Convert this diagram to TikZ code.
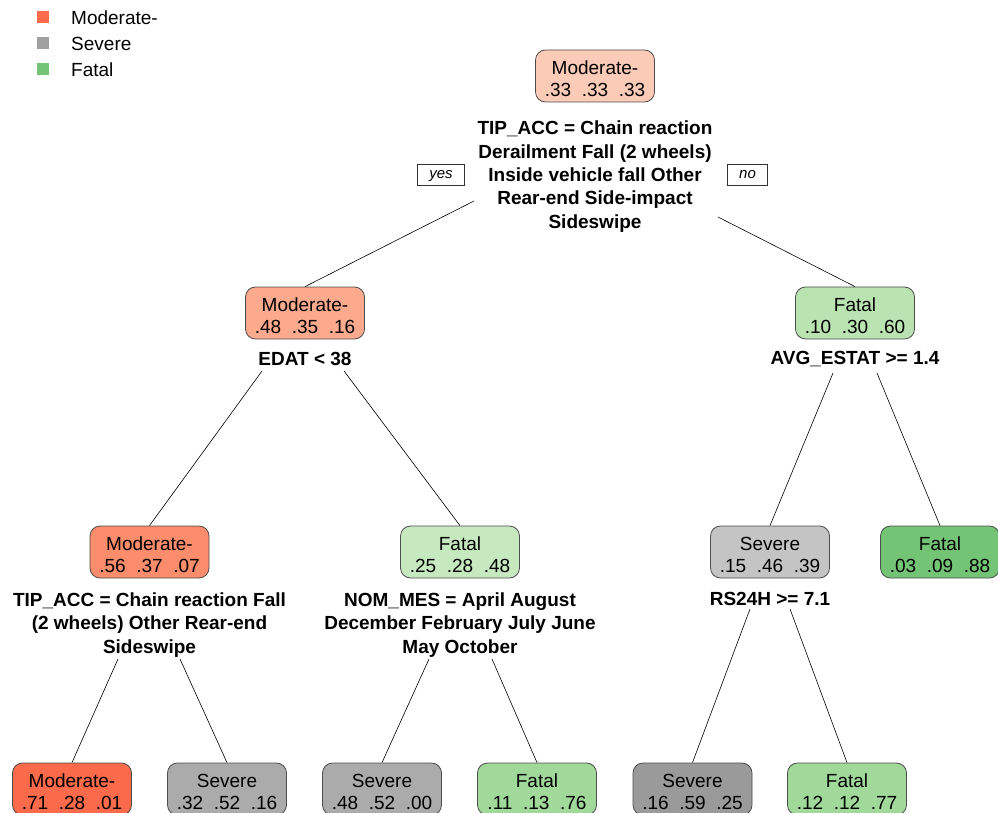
\documentclass[tikz,border=0pt]{standalone}
\usepackage{fontspec}
\setmainfont{Liberation Sans}
\definecolor{rA}{HTML}{FCCBB8}
\definecolor{rB}{HTML}{FBAA8E}
\definecolor{rC}{HTML}{FB8C6C}
\definecolor{rD}{HTML}{FB6A4A}
\definecolor{gA}{HTML}{C4C4C4}
\definecolor{gB}{HTML}{ABABAB}
\definecolor{gC}{HTML}{9A9A9A}
\definecolor{grA}{HTML}{B9E3B1}
\definecolor{grB}{HTML}{C7E9C0}
\definecolor{grC}{HTML}{74C476}
\definecolor{grD}{HTML}{A1D99B}
\definecolor{legR}{HTML}{FB6A4A}
\definecolor{legG}{HTML}{A0A0A0}
\definecolor{legGr}{HTML}{74C476}
\newcommand\gp{\hspace{10.6pt}}
\newcommand\tp{\rule{0pt}{18.9pt}}
\tikzset{
  box/.style={draw=black!70, line width=0.8pt, rounded corners=10pt, minimum width=119pt, minimum height=52pt, inner sep=0pt, align=center, font=\fontsize{19}{22}\selectfont},
  split/.style={inner sep=0pt, align=center, font=\bfseries\fontsize{19}{23.4}\selectfont},
  yn/.style={draw=black!80, line width=0.8pt, inner xsep=12pt, inner ysep=0pt, minimum height=21pt, text depth=0pt, font=\itshape\fontsize{15}{17}\selectfont},
  conn/.style={draw=black, line width=0.6pt},
  legsq/.style={minimum size=12pt, inner sep=0pt},
  legtx/.style={anchor=west, inner sep=0pt, font=\fontsize{19}{22}\selectfont}
}
\begin{document}
\begin{tikzpicture}[x=1pt,y=-1pt]
\useasboundingbox (0,0) rectangle (998,813);
% legend
\node[legsq, fill=legR] (l1) at (43,17.5) {};
\node[legsq, fill=legG] (l2) at (43,43.5) {};
\node[legsq, fill=legGr] (l3) at (43,69.5) {};
\node[legtx] (t1) at (71,17.5) {Moderate-};
\node[legtx] (t2) at (71,43.5) {Severe};
\node[legtx] (t3) at (71,69.5) {Fatal};
% root
\node[box, fill=rA] (root) at (595,76) {\tp Moderate-\\.33\gp.33\gp.33};
\node[split] (rootlab) at (595,176.5) {TIP\_ACC = Chain reaction\\Derailment Fall (2 wheels)\\Inside vehicle fall Other\\Rear-end Side-impact\\Sideswipe};
\node[yn] (yes) at (441,174.5) {yes};
\node[yn] (no) at (747.5,174.5) {no};
% level 2
\node[box, fill=rB] (L) at (305,313) {\tp Moderate-\\.48\gp.35\gp.16};
\node[split] (Llab) at (305,359) {EDAT < 38};
\node[box, fill=grA] (R) at (855,313) {\tp Fatal\\.10\gp.30\gp.60};
\node[split] (Rlab) at (855,359) {AVG\_ESTAT >= 1.4};
% level 3
\node[box, fill=rC] (LL) at (149.5,552) {\tp Moderate-\\.56\gp.37\gp.07};
\node[split] (LLlab) at (149.5,625) {TIP\_ACC = Chain reaction Fall\\(2 wheels) Other Rear-end\\Sideswipe};
\node[box, fill=grB] (LR) at (460,552) {\tp Fatal\\.25\gp.28\gp.48};
\node[split] (LRlab) at (460,625) {NOM\_MES = April August\\December February July June\\May October};
\node[box, fill=gA] (RL) at (770,552) {\tp Severe\\.15\gp.46\gp.39};
\node[split] (RLlab) at (770,599) {RS24H >= 7.1};
\node[box, fill=grC] (RR) at (940,552) {\tp Fatal\\.03\gp.09\gp.88};
% level 4
\node[box, fill=rD] (a1) at (72,789) {\tp Moderate-\\.71\gp.28\gp.01};
\node[box, fill=gB] (a2) at (227,789) {\tp Severe\\.32\gp.52\gp.16};
\node[box, fill=gB] (a3) at (382,789) {\tp Severe\\.48\gp.52\gp.00};
\node[box, fill=grD] (a4) at (537,789) {\tp Fatal\\.11\gp.13\gp.76};
\node[box, fill=gC] (a5) at (692.5,789) {\tp Severe\\.16\gp.59\gp.25};
\node[box, fill=grD] (a6) at (847,789) {\tp Fatal\\.12\gp.12\gp.77};
% connector start points
\coordinate (s1) at (474,201);
\coordinate (s2) at (718,217);
\coordinate (s3) at (262,371);
\coordinate (s4) at (344,371);
\coordinate (s5) at (833,373);
\coordinate (s6) at (877,373);
\coordinate (s7) at (118,659);
\coordinate (s8) at (180,659);
\coordinate (s9) at (429,659);
\coordinate (s10) at (492,659);
\coordinate (s11) at (750,609);
\coordinate (s12) at (790,609);
% connectors
\draw[conn] (s1) -- (L.north);
\draw[conn] (s2) -- (R.north);
\draw[conn] (s3) -- (LL.north);
\draw[conn] (s4) -- (LR.north);
\draw[conn] (s5) -- (RL.north);
\draw[conn] (s6) -- (RR.north);
\draw[conn] (s7) -- (a1.north);
\draw[conn] (s8) -- (a2.north);
\draw[conn] (s9) -- (a3.north);
\draw[conn] (s10) -- (a4.north);
\draw[conn] (s11) -- (a5.north);
\draw[conn] (s12) -- (a6.north);
\end{tikzpicture}
\end{document}
